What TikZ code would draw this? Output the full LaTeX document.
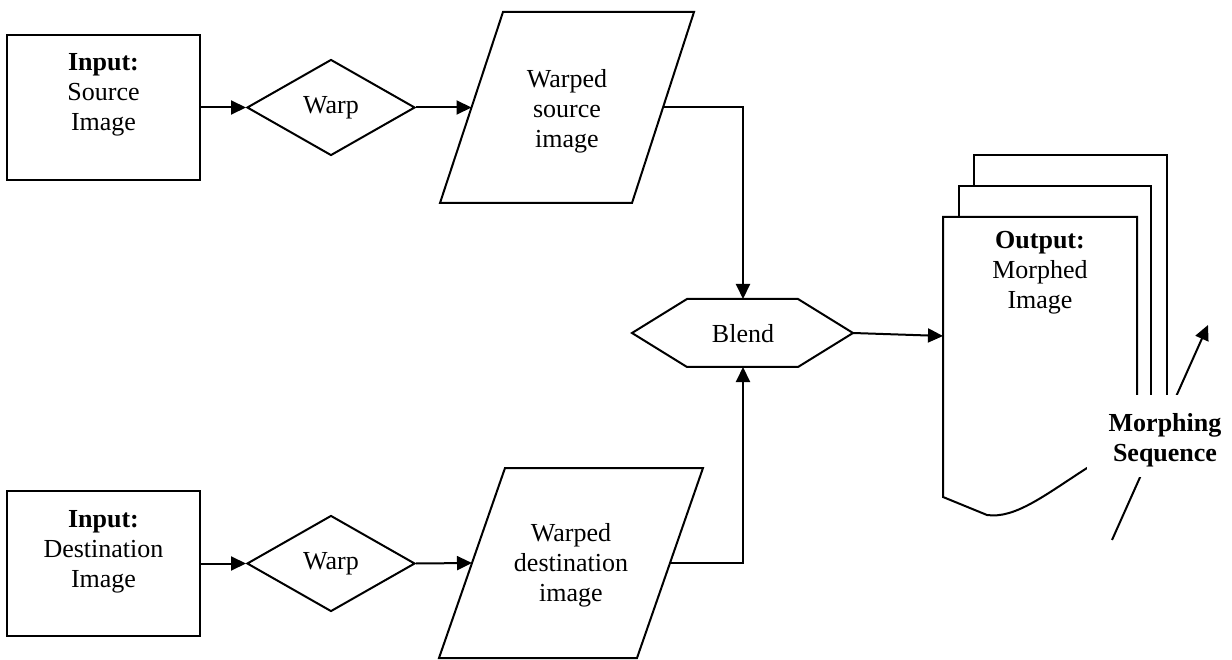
\documentclass[tikz,border=0pt]{standalone}
\usepackage{fontspec}
\setmainfont{Liberation Serif}
\usetikzlibrary{arrows.meta,shapes.geometric}
\begin{document}
\begin{tikzpicture}[x=1pt,y=-1pt,
  line width=2pt, line join=miter,
  txt/.style={font=\fontsize{26}{30}\selectfont, align=center, inner sep=0pt},
  inbox/.style={draw, rectangle, minimum width=193pt, minimum height=145pt, inner sep=0pt},
  warpbox/.style={draw, diamond, minimum width=168pt, minimum height=96pt, inner sep=0pt,
    font=\fontsize{26}{30}\selectfont},
  flow/.style={-{Triangle[length=15pt,width=14pt]}},
  mask/.style={fill=white, inner sep=0pt, minimum width=156pt, minimum height=82pt}
]
\useasboundingbox (0,0) rectangle (1232,660);

% --- inputs ---
\node[inbox] (src) at (103.5,107.5) {};
\node[txt] (srctext) at (103.5,95) {\textbf{Input:}\\Source\\Image};
\node[inbox] (dst) at (103.5,563.5) {};
\node[txt] (dsttext) at (103.5,552) {\textbf{Input:}\\Destination\\Image};

% --- warp steps ---
\node[warpbox] (warp1) at (331,107.5) {Warp};
\node[warpbox] (warp2) at (331,563.5) {Warp};

% --- warped images (parallelograms) ---
\draw (440,203) -- (503,12) -- (694,12) -- (632,203) -- cycle;
\coordinate (ws-in) at (471.5,107.5);
\coordinate (ws-out) at (663,107.5);
\node[txt] (wstext) at (567,111) {Warped\\source\\image};

\draw (439,658) -- (505,468) -- (703,468) -- (637,658) -- cycle;
\coordinate (wd-in) at (472,563);
\coordinate (wd-out) at (670,563);
\node[txt] (wdtext) at (571,565) {Warped\\destination\\image};

% --- blend (hexagon) ---
\draw (632,333) -- (687,299) -- (798,299) -- (853,333) -- (798,367) -- (687,367) -- cycle;
\node[txt] (blend) at (743,334) {Blend};
\coordinate (blend-n) at (743,299);
\coordinate (blend-s) at (743,367);
\coordinate (blend-e) at (853,333);

% --- output document stack ---
\draw (974,186) -- (974,155) -- (1167,155) -- (1167,430);
\draw (959,217) -- (959,186) -- (1151,186) -- (1151,430);
\draw (1137,430) -- (1137,217) -- (943,217) -- (943,497) -- (987,515)
  .. controls (1015,519) and (1045,495) .. (1087,468) -- (1137,440);
\coordinate (doc-in) at (943,336);
\node[txt] (outtext) at (1040,273) {\textbf{Output:}\\Morphed\\Image};

% --- connectors ---
\draw[flow] (src.east) -- (warp1.west);
\draw[flow] (warp1.east) -- (ws-in);
\draw[flow] (ws-out) -| (blend-n);
\draw[flow] (dst.east) -- (warp2.west);
\draw[flow] (warp2.east) -- (wd-in);
\draw[flow] (wd-out) -| (blend-s);
\draw[flow] (blend-e) -- (doc-in);

% --- sequence callout ---
\coordinate (seq-tail) at (1112,540);
\coordinate (seq-head) at (1208,325);
\draw[flow] (seq-tail) -- (seq-head);
\node[mask] (seqmask) at (1165,436) {};
\node[txt, font=\fontsize{26}{30}\selectfont\bfseries] (seq) at (1165,440) {Morphing\\Sequence};
\end{tikzpicture}
\end{document}
